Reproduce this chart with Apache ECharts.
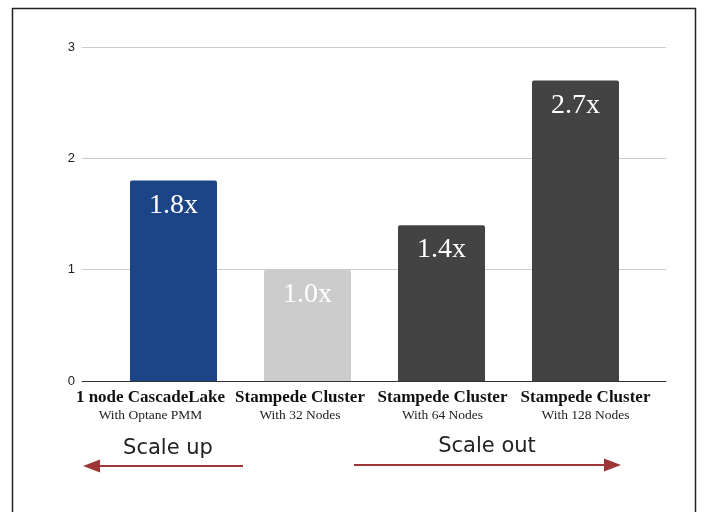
<!DOCTYPE html>
<html>
<head>
<meta charset="utf-8">
<script src="https://cdn.jsdelivr.net/npm/echarts@6/dist/echarts.min.js"></script>
<style>
html,body{margin:0;padding:0;background:#fff;}
#chart{width:704px;height:512px;}
</style>
</head>
<body>
<div id="chart"></div>
<script>
const categories = ['1 node CascadeLake', 'Stampede Cluster', 'Stampede Cluster', 'Stampede Cluster'];
const subtitles = ['With Optane PMM', 'With 32 Nodes', 'With 64 Nodes', 'With 128 Nodes'];
const speedups = [1.8, 1.0, 1.4, 2.7];
const yTicks = [0, 1, 2, 3];
const annotations = ['Scale up', 'Scale out'];

// layout: horizontal shift (px) of each category label from its bar centre
const labelShift = [-23, -7.5, 1, 10];
const palette = ['#1c4587', '#cccccc', '#434343', '#434343'];
const arrowColor = '#9e3838';

const catKeys = categories.map((c, i) => c + '|' + subtitles[i]);

const rich = {};
labelShift.forEach((s, i) => {
  const pad = s < 0 ? [0, -2 * s, 0, 0] : [0, 0, 0, 2 * s];
  rich['a' + i] = {fontFamily: 'Liberation Serif', fontWeight: 'bold', fontSize: 17, color: '#111', lineHeight: 19, align: 'center', padding: pad};
  rich['b' + i] = {fontFamily: 'Liberation Serif', fontSize: 13.5, color: '#222', lineHeight: 17, align: 'center', padding: pad};
});

const chart = echarts.init(document.getElementById('chart'), null, {renderer: 'canvas'});
const option = {
  backgroundColor: '#ffffff',
  animation: false,
  grid: [
    {left: 82, right: 38, top: 47, bottom: 131},
    {left: 106.5, right: 61.5, top: 47, bottom: 131}
  ],
  xAxis: [
    {
      type: 'value', gridIndex: 0, min: 0, max: 1,
      axisLine: {show: true, onZero: false, lineStyle: {color: '#333333', width: 1}},
      axisTick: {show: false}, axisLabel: {show: false}, splitLine: {show: false}
    },
    {
      type: 'category', gridIndex: 1, data: catKeys,
      axisLine: {show: false}, axisTick: {show: false},
      axisLabel: {
        interval: 0, margin: 7, hideOverlap: false,
        formatter: function (v, idx) {
          const p = v.split('|');
          return '{a' + idx + '|' + p[0] + '}\n{b' + idx + '|' + p[1] + '}';
        },
        rich: rich
      }
    }
  ],
  yAxis: [
    {
      type: 'value', gridIndex: 0, min: yTicks[0], max: yTicks[yTicks.length - 1], interval: 1,
      axisLine: {show: false}, axisTick: {show: false},
      axisLabel: {margin: 7, fontFamily: 'Liberation Sans', fontSize: 13, color: '#222'},
      splitLine: {lineStyle: {color: '#cccccc', width: 1}}
    },
    {
      type: 'value', gridIndex: 1, min: yTicks[0], max: yTicks[yTicks.length - 1], interval: 1,
      show: false, splitLine: {show: false}
    }
  ],
  series: [{
    type: 'bar', xAxisIndex: 1, yAxisIndex: 1,
    barWidth: 87,
    data: speedups.map((v, i) => ({value: v, itemStyle: {color: palette[i]}})),
    itemStyle: {borderRadius: [2, 2, 0, 0]},
    label: {
      show: true, position: 'insideTop', distance: 11,
      formatter: p => p.value.toFixed(1) + 'x',
      fontFamily: 'Liberation Serif', fontSize: 28, color: '#ffffff'
    }
  }],
  graphic: [
    {type: 'rect', shape: {x: 12.5, y: 8.5, width: 683, height: 520}, style: {fill: 'none', stroke: '#222', lineWidth: 1.5}, silent: true},
    {type: 'text', x: 168, y: 449, style: {text: annotations[0], fontFamily: 'DejaVu Sans', fontSize: 21, fill: '#222', align: 'center', verticalAlign: 'middle'}},
    {type: 'line', shape: {x1: 96, y1: 466, x2: 243, y2: 466}, style: {stroke: arrowColor, lineWidth: 2}},
    {type: 'polygon', shape: {points: [[83, 466], [100, 459.5], [100, 472.5]]}, style: {fill: arrowColor}},
    {type: 'text', x: 487, y: 447, style: {text: annotations[1], fontFamily: 'DejaVu Sans', fontSize: 21, fill: '#222', align: 'center', verticalAlign: 'middle'}},
    {type: 'line', shape: {x1: 354, y1: 465, x2: 608, y2: 465}, style: {stroke: arrowColor, lineWidth: 2}},
    {type: 'polygon', shape: {points: [[621, 465], [604, 458.5], [604, 471.5]]}, style: {fill: arrowColor}}
  ]
};
chart.setOption(option);
</script>
</body>
</html>
